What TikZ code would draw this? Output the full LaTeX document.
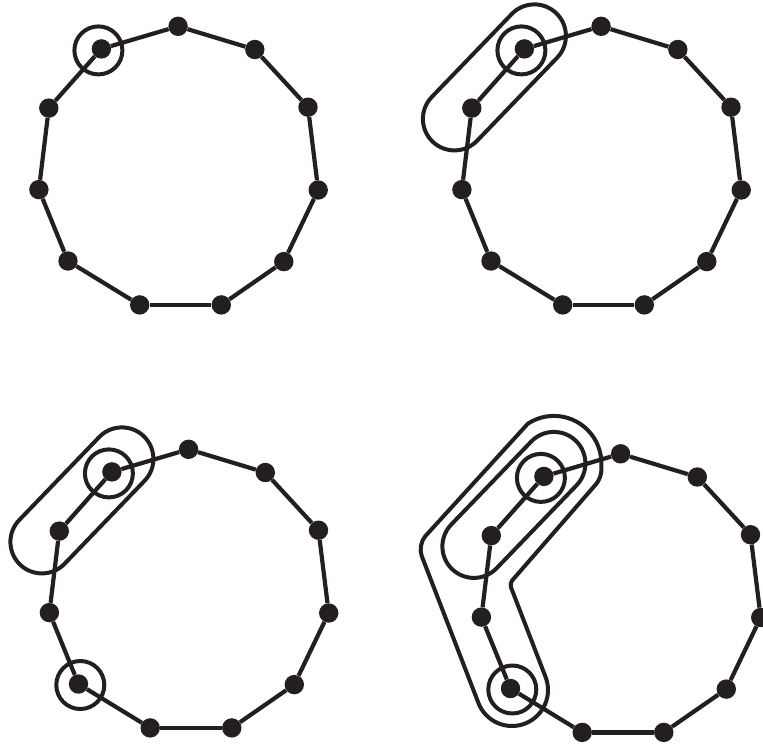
\documentclass[tikz,border=0pt]{standalone}
\usetikzlibrary{calc}
\definecolor{ink}{RGB}{35,31,32}
\tikzset{
  vdot/.style={circle,fill=ink,draw=none,inner sep=0pt,minimum size=19.4pt},
  sideline/.style={draw=ink,line width=4.2pt},
  ring/.style={draw=ink,line width=4pt,line join=round},
}
\newcommand\elevengon{%
  \foreach \nm/\px/\py in {n0/-0.9/-142.2,n1/75.8/-119,n2/129/-61.3,n3/139.2/21.5,n4/104.8/93.1,n5/42.3/136.4,n6/-39.3/136.4,n7/-111/92.5,n8/-140.1/21.1,n9/-130.2/-60.4,n10/-77.6/-119.6}
    {\node[vdot] (\nm) at (\px,\py) {};}
  \foreach \a/\b in {n0/n1,n1/n2,n2/n3,n3/n4,n4/n5,n5/n6,n6/n7,n7/n8,n8/n9,n9/n10,n10/n0}
    {\draw[sideline] (\a) -- (\b);}
}
\newcommand\ringten{\draw[ring] (-80.6,-118.1) circle[radius=24];}
\newcommand\ringseven{\draw[ring] (-109.2,93.5) circle[radius=24];}
\newcommand\capsule{%
  \coordinate (U) at (-67.6,-132.6);
  \coordinate (L) at (-147.6,-49.6);
  \draw[ring] ($(U)+(-136.05:31.5)$) arc[start angle=-136.05,end angle=43.95,radius=31.5]
    -- ($(L)+(43.95:31.5)$) arc[start angle=43.95,end angle=223.95,radius=31.5] -- cycle;
}
\begin{document}
\begin{tikzpicture}[x=1pt,y=-1pt]
\useasboundingbox (0,0) rectangle (763,744);
\begin{scope}[shift={(179,168.5)},name prefix=tl-]
  \elevengon \ringten
\end{scope}
\begin{scope}[shift={(602,168.5)},name prefix=tr-]
  \elevengon \ringten \capsule
\end{scope}
\begin{scope}[shift={(189.5,591.5)},name prefix=bl-]
  \elevengon \ringten \capsule \ringseven
\end{scope}
\begin{scope}[shift={(621.5,596)},name prefix=br-]
  \elevengon \ringten \capsule \ringseven
  \coordinate (Lc) at (-109.5,94);
  \draw[ring] ($(U)+(236.7:47.5)$) arc[start angle=236.7,end angle=360,radius=47.5]
     [rounded corners=8] -- (-20.1,-118)
     [rounded corners=4] -- (-112,-12.5)
     [sharp corners] -- ($(Lc)+(-21.1:36)$) arc[start angle=-21.1,end angle=158.9,radius=36]
     [rounded corners=12] -- (-204.1,-51.2)
     [sharp corners] -- cycle;
\end{scope}
\end{tikzpicture}
\end{document}
